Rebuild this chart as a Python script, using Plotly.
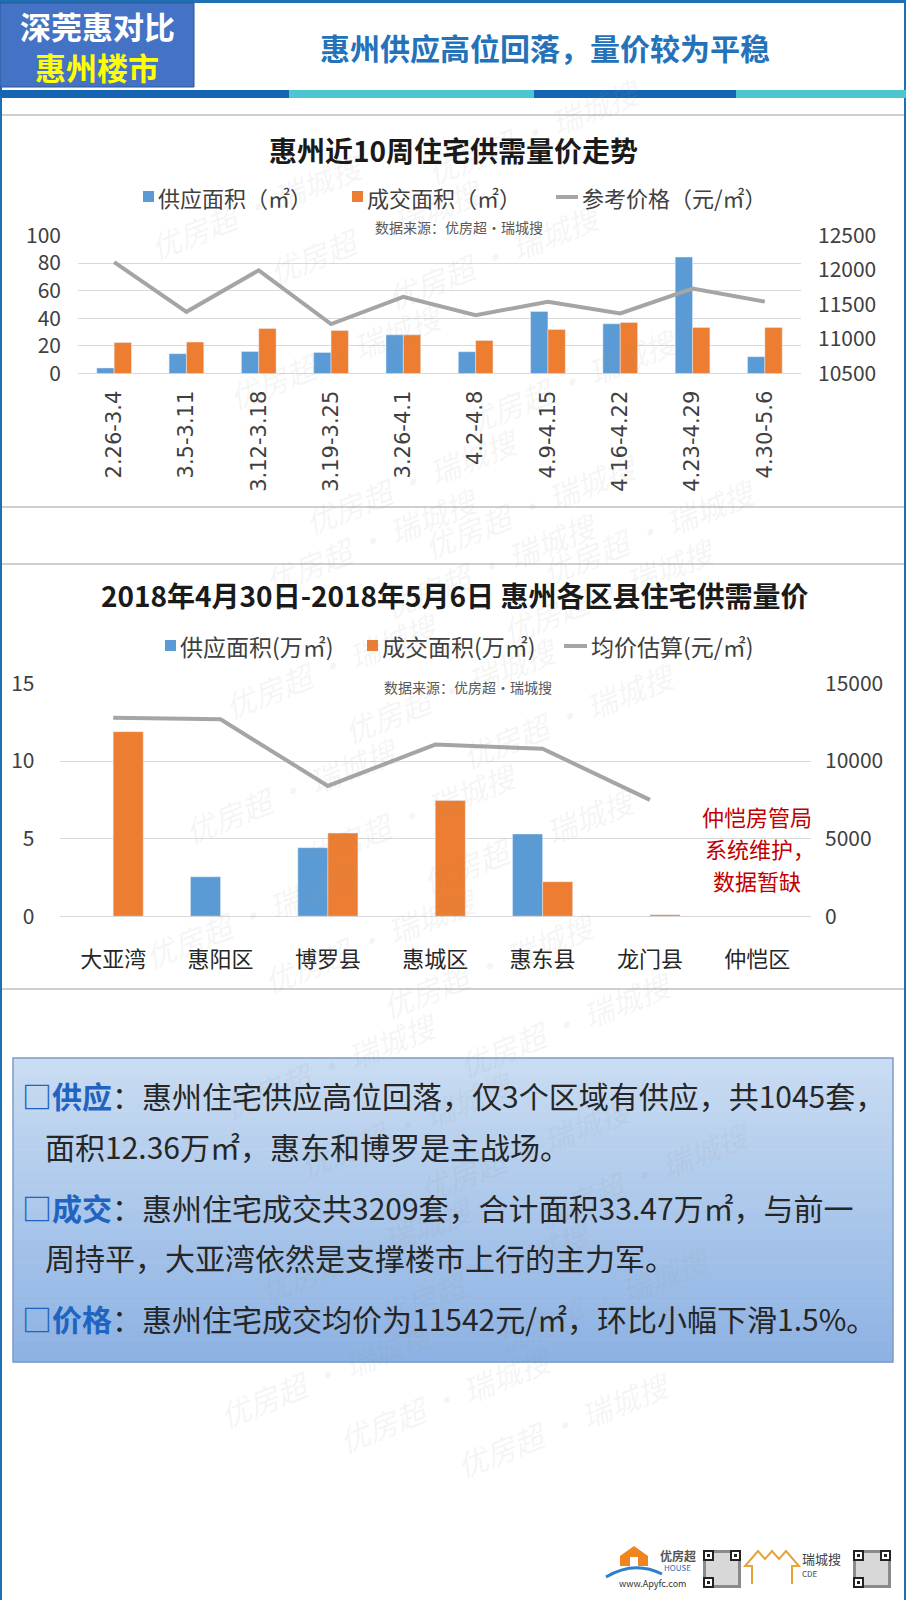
import plotly.graph_objects as go

W, H = 906, 1600


def X(p):
    return p / W


def Y(p):
    return 1 - p / H


# ---------------- data ----------------
weeks = ["2.26-3.4", "3.5-3.11", "3.12-3.18", "3.19-3.25", "3.26-4.1",
         "4.2-4.8", "4.9-4.15", "4.16-4.22", "4.23-4.29", "4.30-5.6"]
week_supply = [4, 14.4, 16, 15.3, 28, 15.8, 45, 36, 84.4, 12.2]
week_deal = [22.5, 22.8, 32.6, 31.2, 28, 24, 31.9, 37, 33.3, 33.3]
week_price = [12115, 11394, 11995, 11216, 11611, 11346, 11538, 11370, 11731, 11542]

districts = ["大亚湾", "惠阳区", "博罗县", "惠城区", "惠东县", "龙门县", "仲恺区"]
dist_supply = [None, 2.54, 4.42, None, 5.3, None, None]
dist_deal = [11.9, None, 5.36, 7.46, 2.22, 0.1, None]
dist_price = [12800, 12700, 8400, 11070, 10800, 7500, None]

left1_ticks = [0, 20, 40, 60, 80, 100]
right1_ticks = [10500, 11000, 11500, 12000, 12500]
left2_ticks = [0, 5, 10, 15]
right2_ticks = [0, 5000, 10000, 15000]

legend1 = ["供应面积（㎡）", "成交面积（㎡）", "参考价格（元/㎡）"]
legend2 = ["供应面积(万㎡)", "成交面积(万㎡)", "均价估算(元/㎡)"]

body_lines = [
    ("□供应", "：惠州住宅供应高位回落，仅3个区域有供应，共1045套，"),
    (None, "面积12.36万㎡，惠东和博罗是主战场。"),
    ("□成交", "：惠州住宅成交共3209套，合计面积33.47万㎡，与前一"),
    (None, "周持平，大亚湾依然是支撑楼市上行的主力军。"),
    ("□价格", "：惠州住宅成交均价为11542元/㎡，环比小幅下滑1.5%。"),
]

# ---------------- style ----------------
BLUE = "#5B9BD5"
ORANGE = "#ED7D31"
GRAY = "#A5A5A5"
FONT = "Noto Sans CJK SC"
FRAME = "#1F6FB5"

fig = go.Figure()

# chart 1
fig.add_trace(go.Bar(x=weeks, y=week_supply, xaxis="x", yaxis="y", marker_color=BLUE,
                     width=0.24, offset=-0.24, name=legend1[0]))
fig.add_trace(go.Bar(x=weeks, y=week_deal, xaxis="x", yaxis="y", marker_color=ORANGE,
                     width=0.24, offset=0, name=legend1[1]))
fig.add_trace(go.Scatter(x=weeks, y=week_price, xaxis="x", yaxis="y2", mode="lines",
                         line=dict(color=GRAY, width=4), name=legend1[2]))
# chart 2
fig.add_trace(go.Bar(x=districts, y=dist_supply, xaxis="x2", yaxis="y3", marker_color=BLUE,
                     width=0.28, offset=-0.28, name=legend2[0]))
fig.add_trace(go.Bar(x=districts, y=dist_deal, xaxis="x2", yaxis="y3", marker_color=ORANGE,
                     width=0.28, offset=0, name=legend2[1]))
fig.add_trace(go.Scatter(x=districts, y=dist_price, xaxis="x2", yaxis="y4", mode="lines",
                         line=dict(color=GRAY, width=4), connectgaps=False, name=legend2[2]))

tickfont = dict(family=FONT, size=21, color="#404040")
base = dict(showline=False, ticks="", fixedrange=True, automargin=False, tickfont=tickfont)

fig.update_layout(
    width=W, height=H, margin=dict(l=0, r=0, t=0, b=0, pad=0, autoexpand=False),
    paper_bgcolor="white", plot_bgcolor="rgba(0,0,0,0)",
    showlegend=False, barmode="overlay",
    font=dict(family=FONT, color="#262626"),
    xaxis=dict(domain=[X(78), X(801)], anchor="y", type="category", tickangle=-90,
               tickfont=dict(family="DejaVu Sans", size=21, color="#404040"),
               showgrid=False, showline=False, ticks="", ticklabelstandoff=12,
               fixedrange=True, automargin=False),
    yaxis=dict(domain=[Y(373.5), Y(235.5)], range=[0, 100], tickvals=left1_ticks,
               gridcolor="#D9D9D9", gridwidth=1, ticklabelstandoff=16,
               zeroline=True, zerolinecolor="#D9D9D9", zerolinewidth=1, **base),
    yaxis2=dict(overlaying="y", side="right", anchor="x", range=[10500, 12500],
                tickvals=right1_ticks, tickformat="d", showgrid=False, zeroline=False,
                ticklabelstandoff=16, **base),
    xaxis2=dict(domain=[X(59.5), X(811)], anchor="y3", type="category",
                tickfont=dict(family=FONT, size=22, color="#262626"),
                showgrid=False, showline=False, ticks="", ticklabelstandoff=28,
                fixedrange=True, automargin=False),
    yaxis3=dict(domain=[Y(916.2), Y(683.6)], range=[0, 15], tickvals=left2_ticks,
                gridcolor="#D9D9D9", gridwidth=1, ticklabelstandoff=24, anchor="x2",
                zeroline=True, zerolinecolor="#D9D9D9", zerolinewidth=1, **base),
    yaxis4=dict(overlaying="y3", side="right", anchor="x2", range=[0, 15000],
                tickvals=right2_ticks, tickformat="d", showgrid=False, zeroline=False,
                ticklabelstandoff=13, **base),
)

shapes = []
ann = []


def rect(x0, y0, x1, y1, fill, line=None, lw=0, layer="below"):
    d = dict(type="rect", xref="paper", yref="paper", x0=X(x0), x1=X(x1), y0=Y(y1), y1=Y(y0),
             fillcolor=fill, layer=layer, line=dict(width=lw, color=line or fill))
    if lw == 0:
        d["line"] = dict(width=0)
    shapes.append(d)


def hline(y, x0, x1, color, w, layer="below"):
    shapes.append(dict(type="line", xref="paper", yref="paper", x0=X(x0), x1=X(x1),
                       y0=Y(y), y1=Y(y), line=dict(color=color, width=w), layer=layer))


def text(x, y, s, size, color="#262626", xa="center", ya="middle", family=FONT, **kw):
    ann.append(dict(x=X(x), y=Y(y), xref="paper", yref="paper", text=s, showarrow=False,
                    xanchor=xa, yanchor=ya, font=dict(family=family, size=size, color=color, **kw)))


# watermarks first (drawn beneath other annotations)
for i in range(-4, 7):
    for j in range(-6, 16):
        cx = 255 + i * 235 - j * 40
        cy = 540 + i * 25 + j * 125
        if 128 < cx < 778 and 62 < cy < 1538:
            ann.append(dict(x=X(cx), y=Y(cy), xref="paper", yref="paper",
                            text="优房超 · 瑞城搜", showarrow=False, textangle=-22,
                            font=dict(family=FONT, size=30, color="rgba(150,150,150,0.11)",
                                      style="italic")))

# frame
rect(0, 0, 906, 3, FRAME)
rect(0, 0, 2, 1600, FRAME)
rect(904, 0, 906, 1600, FRAME)

# header
rect(0, 3, 194, 87, "#4472C4", line="#2F5597", lw=1)
text(97, 25, "<b>深莞惠对比</b>", 31, "white")
text(97, 66, "<b>惠州楼市</b>", 31, "#FFFF00")
text(545, 47, "<b>惠州供应高位回落，量价较为平稳</b>", 30, "#2472B9")
rect(0, 90, 289, 98, "#1565B3")
rect(289, 90, 534, 98, "#4CC7D2")
rect(534, 90, 736, 98, "#1565B3")
rect(736, 90, 906, 98, "#4CC7D2")

# panel separators
for yy in (115, 507, 564, 989):
    hline(yy, 2, 904, "#BFBFBF", 1.5)

# chart 1 titles & legend
text(453, 150, "<b>惠州近10周住宅供需量价走势</b>", 28, "#1a1a1a")
rect(143, 191, 154, 202, BLUE, layer="above")
text(156, 197, legend1[0], 22, "#404040", xa="left")
rect(352, 191, 363, 202, ORANGE, layer="above")
text(365, 197, legend1[1], 22, "#404040", xa="left")
hline(197, 556, 578, GRAY, 4, layer="above")
text(580, 197, legend1[2], 22, "#404040", xa="left")
text(459, 227, "数据来源：优房超·瑞城搜", 14, "#595959")

# chart 2 titles & legend
text(454, 595, "<b>2018年4月30日-2018年5月6日 惠州各区县住宅供需量价</b>", 28, "#1a1a1a")
rect(165, 640, 176, 651, BLUE, layer="above")
text(178, 646, legend2[0], 23, "#404040", xa="left")
rect(367, 640, 378, 651, ORANGE, layer="above")
text(380, 646, legend2[1], 23, "#404040", xa="left")
hline(646, 564, 587, GRAY, 4, layer="above")
text(589, 646, legend2[2], 23, "#404040", xa="left")
text(468, 687, "数据来源：优房超·瑞城搜", 14, "#595959")

for i, s in enumerate(["仲恺房管局", "系统维护，", "数据暂缺"]):
    text(757 if i != 1 else 760, 816 + i * 32, s, 22, "#C00000")

# text box with vertical gradient
top, bot = 1058, 1362
n = 40
c0 = (201, 220, 242)
c1 = (141, 178, 227)
for i in range(n):
    t = i / (n - 1)
    c = tuple(round(c0[k] + (c1[k] - c0[k]) * t) for k in range(3))
    y0 = top + (bot - top) * i / n
    y1 = top + (bot - top) * (i + 1) / n + 0.6
    rect(13, y0, 893, y1, "rgb(%d,%d,%d)" % c)
shapes.append(dict(type="rect", xref="paper", yref="paper", x0=X(13), x1=X(893), y0=Y(bot), y1=Y(top),
                   line=dict(color="#7B9CCB", width=1.5), fillcolor="rgba(0,0,0,0)", layer="below"))

ys = [1095, 1146, 1207, 1257, 1318]
for (head, rest), yy in zip(body_lines, ys):
    if head:
        s = "<b><span style='color:#1F64C0'>%s</span></b>%s" % (head, rest)
        text(20, yy, s, 30, "#262626", xa="left")
    else:
        text(43, yy, rest, 30, "#262626", xa="left")

# logos (bottom right)
shapes.append(dict(type="path", xref="paper", yref="paper", layer="above",
                   path="M %f %f L %f %f L %f %f L %f %f L %f %f Z" % (
                       X(620), Y(1566), X(620), Y(1556), X(634), Y(1546), X(648), Y(1556), X(648), Y(1566)),
                   fillcolor="#F0851E", line=dict(width=0)))
rect(630, 1557, 638, 1566, "white", layer="above")
shapes.append(dict(type="path", xref="paper", yref="paper", layer="above",
                   path="M %f %f Q %f %f %f %f" % (X(606), Y(1577), X(634), Y(1560), X(662), Y(1574)),
                   line=dict(color="#2C7FC8", width=3)))
text(658, 1555, "<b>优房超</b>", 12, "#555555", xa="left")
text(662, 1567, "HOUSE", 8, "#2C6FB5", xa="left")
text(652, 1583, "www.Apyfc.com", 9, "#333333")


def qr(x0, y0, s):
    rect(x0, y0, x0 + s, y0 + s, "#8a8a8a", layer="above")
    rect(x0 + 3, y0 + 3, x0 + s - 3, y0 + s - 3, "#d8d8d8", layer="above")
    for fx, fy in ((x0, y0), (x0 + s - 11, y0), (x0, y0 + s - 11)):
        rect(fx, fy, fx + 11, fy + 11, "#222222", layer="above")
        rect(fx + 2, fy + 2, fx + 9, fy + 9, "white", layer="above")
        rect(fx + 4, fy + 4, fx + 7, fy + 7, "#222222", layer="above")


qr(703, 1550, 38)
qr(853, 1550, 38)
shapes.append(dict(type="path", xref="paper", yref="paper", layer="above",
                   path=" ".join(["%s %f %f" % (c, X(a), Y(b)) for c, a, b in [
                       ("M", 752, 1584), ("L", 752, 1566), ("L", 745, 1566), ("L", 758, 1551),
                       ("L", 765, 1559), ("L", 772, 1551), ("L", 779, 1559), ("L", 786, 1551),
                       ("L", 799, 1566), ("L", 792, 1566), ("L", 792, 1584)]]),
                   line=dict(color="#E8A23A", width=2)))
text(800, 1558, "瑞城搜", 13, "#444444", xa="left")
text(800, 1573, "CDE", 8, "#444444", xa="left")

fig.update_layout(shapes=shapes, annotations=ann)
fig.write_html("out.html", config={"displayModeBar": False},
               post_script="document.body.style.margin='0';document.body.style.padding='0';")
